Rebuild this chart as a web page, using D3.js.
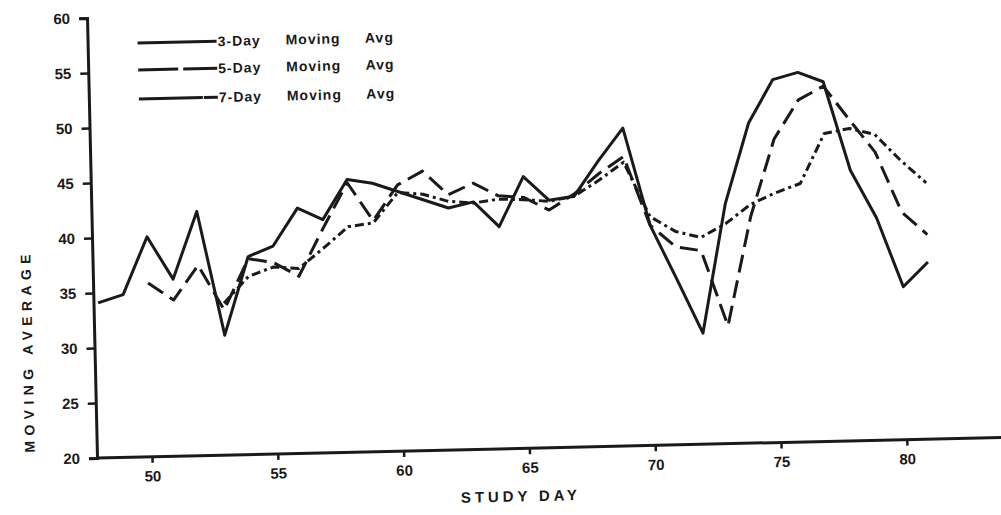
<!DOCTYPE html>
<html>
<head>
<meta charset="utf-8">
<script src="https://cdn.jsdelivr.net/npm/d3@7"></script>
<style>
  html, body { margin: 0; padding: 0; background: #fff; }
  svg { display: block; }
  text { font-family: "Liberation Sans", Arial, sans-serif; font-weight: bold; fill: #1a1a1a; }
</style>
</head>
<body>
<div id="chart"></div>
<script>

// study days and moving averages
const days3 = [48, 49, 50, 51, 52, 53, 54, 55, 56, 57, 58, 59, 60, 61, 62, 63, 64,
               65, 66, 67, 68, 69, 70, 71, 72, 73, 74, 75, 76, 77, 78, 79, 80, 81];
const avg3 = [34.1, 34.8, 40.0, 36.1, 42.2, 30.9, 38.0, 38.9, 42.3, 41.2, 44.8, 44.4, 43.6, 42.8, 42.0, 42.5, 40.2,
              44.7, 42.5, 42.8, 46.0, 48.9, 40.0, 35.1, 30.1, 41.8, 49.1, 53.0, 53.6, 52.7, 44.6, 40.2, 33.9, 36.1];

const days5 = [50, 51, 52, 53, 54, 55, 56, 57, 58, 59, 60, 61, 62, 63, 64, 65,
               66, 67, 68, 69, 70, 71, 72, 73, 74, 75, 76, 77, 78, 79, 80, 81];
const avg5 = [35.8, 34.2, 37.3, 33.2, 37.8, 37.4, 36.1, 40.4, 44.5, 41.0, 44.2, 45.4, 43.2, 44.2, 43.0, 42.8,
              41.6, 43.0, 44.8, 46.3, 40.0, 38.0, 37.6, 30.7, 40.6, 47.6, 51.1, 52.3, 49.2, 46.2, 40.7, 38.6];

const days7 = [53, 54, 55, 56, 57, 58, 59, 60, 61, 62, 63, 64, 65, 66, 67,
               68, 69, 70, 71, 72, 73, 74, 75, 76, 77, 78, 79, 80, 81];
const avg7 = [33.8, 36.2, 37.0, 36.8, 38.6, 40.5, 40.8, 43.5, 43.3, 42.6, 42.4, 42.7, 42.6, 42.4, 42.8,
              44.2, 45.8, 40.8, 39.4, 38.8, 40.0, 41.7, 42.7, 43.5, 48.0, 48.4, 47.8, 45.4, 43.3];

const seriesNames = ['3-Day Moving Avg', '5-Day Moving Avg', '7-Day Moving Avg'];
const xTicks = [50, 55, 60, 65, 70, 75, 80];
const yTicks = [20, 25, 30, 35, 40, 45, 50, 55, 60];

const width = 1001, height = 515;
const ink = '#1a1a1a';

// dash style per series, same order as seriesNames
const dashes = [null, '18,8', '9,4,3,4'];

const svg = d3.select('#chart').append('svg')
    .attr('width', width)
    .attr('height', height);

// the scanned page sits slightly rotated, so the whole plot is tilted about the origin corner
const g = svg.append('g')
    .attr('transform', 'rotate(-1.3, 97, 458)');

// scales
const x = d3.scaleLinear().domain([50, 80]).range([152, 907]);
const y = d3.scaleLinear().domain([20, 60]).range([458, 18]);

// y axis
const gy = g.append('g')
    .attr('transform', 'translate(97,0)')
    .call(d3.axisLeft(y).tickValues(yTicks).tickSize(8).tickPadding(9));
gy.select('.domain').attr('stroke', ink).attr('stroke-width', 3);
gy.selectAll('.tick line').attr('stroke', ink).attr('stroke-width', 2.5);
gy.selectAll('.tick text')
    .attr('font-size', 15)
    .attr('font-family', '"Liberation Sans", Arial, sans-serif')
    .attr('font-weight', 'bold')
    .attr('fill', ink);

// x axis, runs on to the edge of the page
const gx = g.append('g')
    .attr('transform', 'translate(0,458)')
    .call(d3.axisBottom(x).tickValues(xTicks).tickSize(6).tickPadding(8));
gx.select('.domain').remove();
gx.append('line')
    .attr('x1', 97).attr('x2', 1030)
    .attr('stroke', ink).attr('stroke-width', 3);
gx.selectAll('.tick line').attr('stroke', ink).attr('stroke-width', 2.5);
gx.selectAll('.tick text')
    .attr('font-size', 15)
    .attr('font-family', '"Liberation Sans", Arial, sans-serif')
    .attr('font-weight', 'bold')
    .attr('fill', ink);

// axis titles
g.append('text')
    .attr('transform', 'translate(35,352) rotate(-90)')
    .attr('text-anchor', 'middle')
    .attr('font-size', 14)
    .attr('textLength', 198)
    .attr('lengthAdjust', 'spacing')
    .text('MOVING AVERAGE');

g.append('text')
    .attr('x', 518)
    .attr('y', 511)
    .attr('text-anchor', 'middle')
    .attr('font-size', 15)
    .attr('textLength', 116)
    .attr('lengthAdjust', 'spacing')
    .text('STUDY DAY');

// lines
const line = d3.line()
    .x(d => x(d.day))
    .y(d => y(d.value));

const series = [
    days3.map((d, i) => ({ day: d, value: avg3[i] })),
    days5.map((d, i) => ({ day: d, value: avg5[i] })),
    days7.map((d, i) => ({ day: d, value: avg7[i] }))
];

g.append('g')
    .selectAll('path')
    .data(series)
    .enter()
    .append('path')
        .attr('d', d => line(d))
        .attr('fill', 'none')
        .attr('stroke', ink)
        .attr('stroke-width', 3)
        .attr('stroke-linejoin', 'round')
        .attr('stroke-dasharray', (_, i) => dashes[i]);

// legend
const legend = g.append('g')
    .attr('transform', 'translate(147,44)')
    .selectAll('g')
    .data(seriesNames)
    .enter()
    .append('g')
        .attr('transform', (_, i) => `translate(0, ${[0, 27, 56][i]})`);

legend.append('line')
    .attr('x1', 0).attr('x2', 79)
    .attr('stroke', ink)
    .attr('stroke-width', 3)
    .attr('stroke-dasharray', (_, i) => [null, '40,5', '64,1,14'][i]);

legend.append('text')
    .attr('x', 80)
    .attr('y', 5)
    .attr('font-size', 14)
    .style('letter-spacing', '1px')
    .style('word-spacing', '20px')
    .text(d => d);

</script>
</body>
</html>
